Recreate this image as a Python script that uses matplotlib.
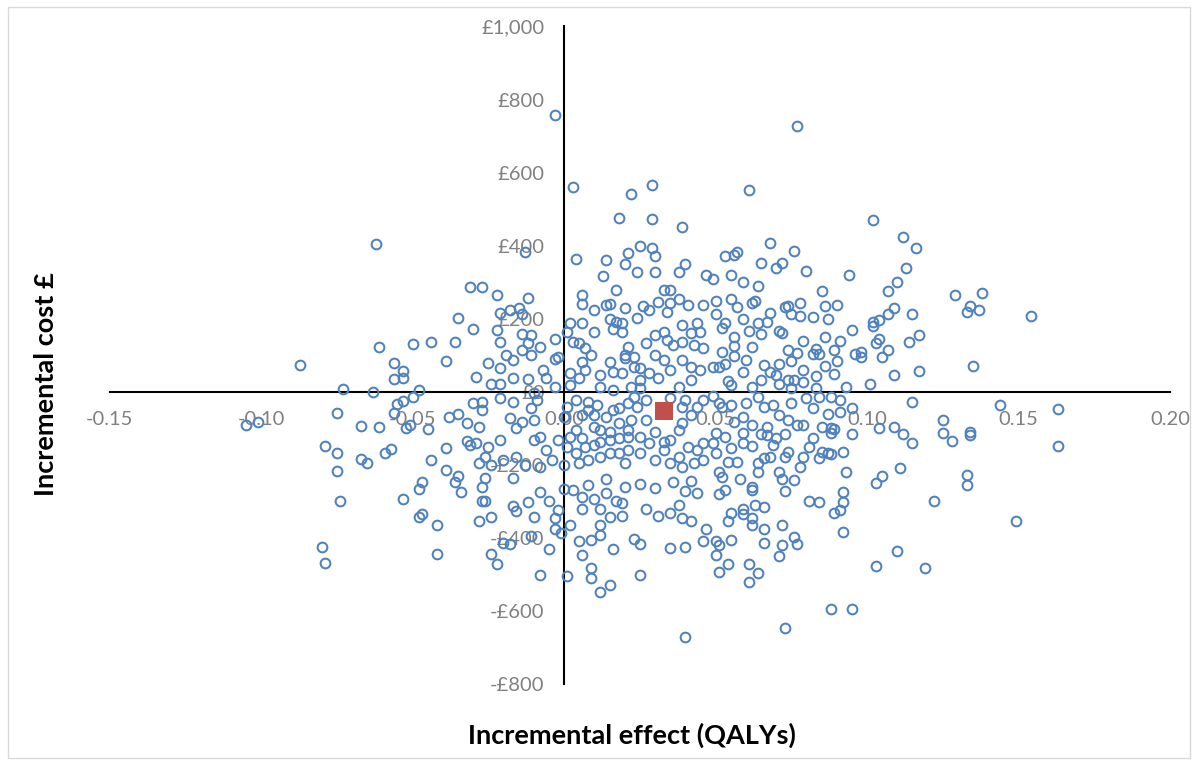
import numpy as np
import matplotlib.pyplot as plt
from matplotlib.ticker import FuncFormatter, MultipleLocator
from matplotlib.patches import Rectangle

# bootstrap replicates (incremental effect in QALYs, incremental cost in £)
# points above £250
top_pts = [
    (-0.003, 758), (0.077, 728), (0.003, 560), (0.029, 566), (0.022, 541), (0.061, 552),
    (0.018, 475), (0.029, 472), (0.039, 450), (-0.062, 404), (-0.013, 382), (0.004, 363),
    (0.014, 360), (0.013, 316), (0.020, 349), (0.021, 379), (0.024, 327), (0.025, 398),
    (0.029, 393), (0.030, 371), (0.030, 327), (0.038, 327), (0.040, 349), (0.047, 319),
    (0.102, 470), (0.112, 423), (0.116, 393), (0.113, 338), (0.110, 302), (0.094, 321),
    (0.080, 330), (0.076, 385), (0.072, 354), (0.070, 338), (0.068, 407), (0.065, 354),
    (0.057, 382), (0.056, 374), (0.053, 371), (0.055, 321), (0.059, 302), (0.064, 291),
    (0.049, 308), (0.085, 275), (0.017, 280), (0.033, 280), (0.035, 280), (-0.031, 286),
    (-0.027, 286), (0.107, 275), (0.129, 266), (0.138, 272), (-0.022, 264), (-0.012, 258),
    (0.006, 266), (0.038, 253), (0.063, 250), (0.050, 250), (0.055, 253),
]

# left of -0.03
left_pts = [
    (-0.087, 74), (-0.061, 124), (-0.056, 80), (-0.053, 58), (-0.053, 38), (-0.056, 36),
    (-0.073, 8), (-0.063, 0), (-0.050, 132), (-0.044, 137), (-0.036, 137), (-0.035, 203),
    (-0.039, 85), (-0.048, 5), (-0.050, -14), (-0.053, -25), (-0.055, -33), (-0.056, -58),
    (-0.075, -58), (-0.105, -91), (-0.101, -82), (-0.067, -93), (-0.061, -96), (-0.052, -99),
    (-0.051, -91), (-0.045, -102), (-0.038, -69), (-0.035, -60), (-0.032, -85), (-0.032, -135),
    (-0.031, -145), (-0.039, -154), (-0.079, -148), (-0.075, -168), (-0.059, -168), (-0.057, -157),
    (-0.067, -184), (-0.065, -195), (-0.044, -187), (-0.039, -214), (-0.075, -217), (-0.035, -231),
    (-0.074, -299), (-0.080, -423), (-0.079, -467), (-0.053, -294), (-0.048, -266), (-0.047, -247),
    (-0.048, -341), (-0.047, -335), (-0.042, -363), (-0.042, -442), (-0.036, -247), (-0.034, -275),
]

# centre, above zero
mid_up_pts = [
    (0.006, 242), (0.026, 236), (0.031, 247), (0.035, 244), (0.041, 239), (0.046, 239),
    (-0.018, 225), (-0.015, 231), (-0.014, 212), (-0.021, 217), (0.010, 223), (0.014, 239),
    (0.015, 242), (0.020, 231), (0.028, 223), (0.034, 220), (0.024, 203), (0.015, 201),
    (0.017, 192), (-0.030, 173), (-0.022, 170), (-0.021, 137), (-0.014, 159), (-0.011, 157),
    (-0.012, 135), (-0.014, 115), (-0.008, 124), (-0.011, 102), (-0.017, 88), (-0.019, 102),
    (-0.025, 80), (-0.021, 66), (-0.017, 38), (-0.029, 41), (-0.024, 22), (-0.021, 22),
    (-0.012, 36), (-0.007, 60), (-0.006, 38), (-0.003, 146), (0.001, 165), (-0.002, 96),
    (-0.003, 91), (0.002, 190), (0.006, 190), (0.003, 137), (0.005, 135), (0.007, 121),
    (0.009, 102), (0.010, 165), (0.016, 173), (0.019, 190), (0.019, 165), (0.021, 124),
    (0.020, 102), (0.023, 96), (0.015, 82), (0.016, 55), (0.019, 52), (0.023, 69),
    (0.025, 66), (0.028, 52), (0.031, 38), (0.025, 33), (0.030, 157), (0.033, 165),
    (0.034, 143), (0.036, 129), (0.039, 137), (0.039, 184), (0.044, 190), (0.045, 165),
    (0.042, 162), (0.043, 129), (0.046, 121), (0.039, 88), (0.035, 60), (0.042, 69),
    (0.045, 60), (0.042, 33), (0.038, 14), (0.033, 88), (0.030, 102), (0.027, 135),
    (0.020, 93), (0.006, 82), (0.007, 60), (0.005, 38), (0.012, 47), (0.002, 52),
    (0.002, 19), (-0.003, 14), (0.012, 14), (0.016, 5), (0.022, 14), (0.025, 11),
]

# centre, below zero
mid_down_pts = [
    (-0.030, -30), (-0.027, -27), (-0.027, -49), (-0.021, -16), (-0.017, -27), (-0.010, -3),
    (-0.009, -22), (-0.011, -44), (-0.018, -71), (-0.014, -82), (-0.016, -99), (-0.010, -77),
    (-0.021, -132), (-0.028, -96), (-0.029, -140), (-0.025, -151), (-0.026, -179), (-0.020, -187),
    (-0.016, -179), (-0.010, -132), (-0.008, -124), (-0.006, -159), (-0.002, -132), (-0.004, -187),
    (0.001, -41), (0.000, -69), (0.004, -22), (0.006, -63), (0.008, -27), (0.008, -49),
    (0.011, -36), (0.010, -63), (0.014, -69), (0.016, -49), (0.018, -44), (0.018, -85),
    (0.015, -110), (0.012, -104), (0.010, -96), (0.004, -104), (0.002, -124), (0.006, -126),
    (0.007, -151), (0.001, -151), (0.004, -168), (0.010, -146), (0.012, -137), (0.015, -132),
    (0.018, -126), (0.021, -124), (0.021, -104), (0.022, -77), (0.024, -41), (0.027, -22),
    (0.023, -14), (0.021, -30), (0.027, -77), (0.030, -110), (0.025, -124), (0.028, -140),
    (0.033, -137), (0.035, -132), (0.038, -104), (0.039, -85), (0.042, -63), (0.044, -41),
    (0.039, -41), (0.040, -22), (0.046, -22), (0.035, -16), (0.038, -179), (0.041, -151),
    (0.044, -159), (0.046, -140), (0.046, -187), (0.043, -195), (0.033, -159), (0.025, -168),
    (0.021, -159), (0.018, -168), (0.015, -168), (0.012, -179), (0.008, -187), (0.005, -195),
    (0.020, -195), (0.030, -187), (0.035, -195), (0.039, -206), (0.000, -201), (-0.008, -206),
    (-0.013, -201), (-0.024, -201), (-0.028, -195),
    (-0.027, -261), (-0.027, -297), (-0.026, -297), (-0.028, -352), (-0.024, -341), (-0.024, -442),
    (-0.022, -472), (-0.020, -412), (-0.018, -415), (-0.011, -393), (-0.005, -431), (-0.008, -500),
    (0.001, -503), (0.006, -445), (0.005, -409), (0.009, -481), (0.009, -508), (0.012, -547),
    (0.015, -527), (0.025, -500), (0.016, -429), (0.009, -404), (0.012, -390), (0.012, -365),
    (0.025, -415), (0.023, -401), (0.035, -426), (0.040, -423), (0.046, -407), (0.040, -670),
    (-0.003, -376), (-0.003, -346), (-0.001, -385), (0.002, -363), (-0.010, -343), (-0.016, -327),
    (-0.017, -313), (-0.012, -302), (-0.005, -299), (-0.002, -324), (0.006, -321), (0.006, -288),
    (0.010, -294), (0.014, -277), (0.017, -297), (0.019, -305), (0.019, -338), (0.015, -343),
    (0.012, -319), (0.027, -319), (0.031, -338), (0.035, -332), (0.038, -308), (0.039, -346),
    (0.042, -354), (0.044, -277), (0.040, -272), (0.036, -247), (0.042, -244), (0.030, -264),
    (0.025, -253), (0.020, -261), (0.014, -239), (0.008, -255), (0.003, -269), (0.000, -266),
    (-0.008, -275), (-0.017, -236), (-0.026, -236), (0.047, -376),
]

# right of 0.048
right_pts = [
    (0.068, 217), (0.067, 192), (0.064, 190), (0.062, 244), (0.057, 233), (0.050, 212),
    (0.053, 190), (0.052, 176), (0.059, 201), (0.061, 168), (0.065, 159), (0.071, 168),
    (0.072, 162), (0.079, 140), (0.086, 151), (0.091, 140), (0.117, 157), (0.114, 137),
    (0.104, 146), (0.103, 135), (0.107, 115), (0.105, 96), (0.098, 110), (0.096, 105),
    (0.098, 96), (0.089, 115), (0.090, 85), (0.086, 71), (0.083, 118), (0.082, 104),
    (0.084, 104), (0.089, 49), (0.083, 44), (0.079, 60), (0.075, 85), (0.077, 107),
    (0.074, 115), (0.071, 77), (0.068, 55), (0.066, 74), (0.062, 124), (0.056, 151),
    (0.056, 126), (0.056, 99), (0.052, 110), (0.060, 88), (0.053, 77), (0.051, 69),
    (0.049, 69), (0.054, 30), (0.055, 19), (0.059, 55), (0.062, 14), (0.065, 33),
    (0.070, 47), (0.071, 22), (0.074, 33), (0.076, 33), (0.079, 27), (0.075, 11),
    (0.083, 11), (0.093, 14), (0.101, 22), (0.109, 47), (0.117, 58),
    (0.115, 212), (0.109, 231), (0.107, 212), (0.104, 198), (0.102, 192), (0.102, 181),
    (0.095, 170), (0.090, 239), (0.086, 236), (0.087, 201), (0.082, 206), (0.078, 209),
    (0.078, 244), (0.074, 236), (0.073, 233), (0.075, 212),
    (0.115, -27), (0.125, -77), (0.125, -113), (0.115, -140), (0.112, -115), (0.109, -96),
    (0.104, -99), (0.095, -115), (0.095, -44), (0.091, -55), (0.091, -22), (0.088, -14),
    (0.084, -14), (0.080, -16), (0.082, -44), (0.075, -30), (0.074, -77), (0.071, -63),
    (0.069, -36), (0.066, -41), (0.064, -14), (0.060, -30), (0.055, -36), (0.052, -41),
    (0.051, -30), (0.049, -11), (0.059, -69), (0.056, -82), (0.062, -91), (0.067, -96),
    (0.077, -91), (0.079, -91), (0.085, -96), (0.087, -60), (0.088, -99), (0.089, -102),
    (0.088, -113), (0.073, -115), (0.067, -118), (0.065, -115), (0.059, -113), (0.053, -124),
    (0.050, -113), (0.049, -140), (0.055, -154), (0.059, -140), (0.062, -148), (0.069, -146),
    (0.070, -126), (0.082, -126), (0.081, -151), (0.085, -165), (0.087, -168), (0.088, -170),
    (0.092, -165), (0.079, -179), (0.074, -165), (0.073, -179), (0.068, -179), (0.066, -181),
    (0.064, -195), (0.057, -192), (0.054, -192), (0.050, -168), (0.111, -209), (0.093, -220),
    (0.084, -181), (0.071, -220), (0.078, -206), (0.064, -220), (0.051, -220),
    (0.122, -299), (0.119, -481), (0.110, -434), (0.103, -475), (0.095, -593), (0.088, -593),
    (0.073, -646), (0.092, -382), (0.089, -332), (0.091, -324), (0.092, -302), (0.092, -275),
    (0.103, -250), (0.105, -231), (0.081, -297), (0.084, -302), (0.073, -272), (0.076, -242),
    (0.072, -239), (0.072, -363), (0.076, -396), (0.077, -415), (0.072, -420), (0.071, -448),
    (0.066, -412), (0.066, -376), (0.066, -316), (0.063, -308), (0.062, -346), (0.062, -365),
    (0.059, -319), (0.059, -335), (0.055, -330), (0.054, -352), (0.055, -404), (0.050, -409),
    (0.051, -420), (0.050, -445), (0.054, -470), (0.051, -492), (0.061, -472), (0.064, -494),
    (0.061, -519), (0.062, -269), (0.062, -261), (0.053, -269), (0.051, -280), (0.058, -239),
    (0.052, -233),
    (0.133, -255), (0.133, -228), (0.149, -354), (0.134, 236), (0.133, 220), (0.137, 225),
    (0.154, 209), (0.135, 71), (0.144, -36), (0.163, -47), (0.163, -148), (0.134, -110),
    (0.134, -118), (0.128, -135),
]

mean_effect = 0.033
mean_cost = -52

pts = np.array(top_pts + left_pts + mid_up_pts + mid_down_pts + right_pts)

plt.rcParams['font.family'] = ['Lato', 'DejaVu Sans']

fig = plt.figure(figsize=(11.96, 7.65), dpi=100)
ax = fig.add_axes([0.0916, 0.1054, 0.8867, 0.86])

ax.plot(pts[:, 0], pts[:, 1], 'o', mfc='none', mec='#4F81BD', ms=7.0, mew=1.45, zorder=3)
ax.plot([mean_effect], [mean_cost], 's', color='#C0504D', ms=13.4, mew=0, zorder=4)

ax.set_xlim(-0.15, 0.20)
ax.set_ylim(-800, 1000)
ax.xaxis.set_major_locator(MultipleLocator(0.05))
ax.yaxis.set_major_locator(MultipleLocator(200))
ax.xaxis.set_major_formatter(FuncFormatter(lambda v, p: f'{v:.2f}'))
ax.yaxis.set_major_formatter(FuncFormatter(
    lambda v, p: ('-£' if v < 0 else '£') + f'{abs(v):,.0f}'))

for s in ['top', 'right']:
    ax.spines[s].set_visible(False)
ax.spines['left'].set_position(('data', 0))
ax.spines['bottom'].set_position(('data', 0))
for s in ['left', 'bottom']:
    ax.spines[s].set_linewidth(1.5)
    ax.spines[s].set_color('black')
ax.tick_params(length=0, labelsize=14.5, labelcolor='#808080')
ax.tick_params(axis='x', pad=14)
ax.tick_params(axis='y', pad=14)
ax.patch.set_alpha(0)

fig.text(632 / 1196, 1 - 735 / 765, 'Incremental effect (QALYs)', ha='center', va='center',
         fontsize=19.5, fontweight='bold')
fig.text(46 / 1196, 1 - 384 / 765, 'Incremental cost £', ha='center', va='center',
         fontsize=19.5, fontweight='bold', rotation=90)

fig.patches.append(Rectangle((8 / 1196, 7 / 765), 1182 / 1196, 751 / 765,
                             transform=fig.transFigure, fill=False, ec='#d9d9d9', lw=1))

fig.savefig('out.png', dpi=100)
